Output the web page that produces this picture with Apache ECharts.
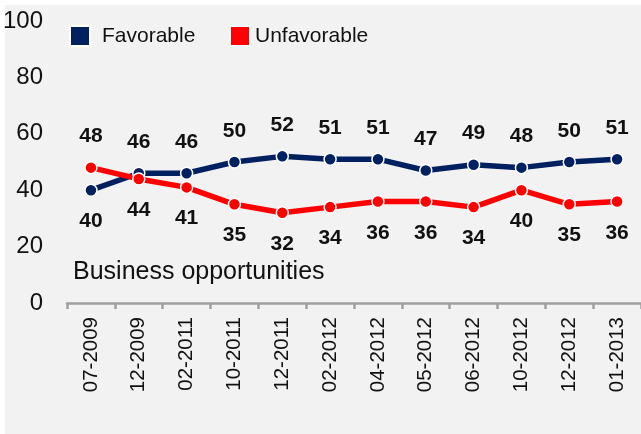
<!DOCTYPE html>
<html lang="en">
<head>
    <meta charset="UTF-8">
    <title>Business opportunities</title>
    <style>
      * { padding: 0; margin: 0; }
      body { background: #fff; }
    </style>
</head>
<body>
    <div id="main" style="width: 641px;height:434px;"></div>
    <script src="https://cdn.jsdelivr.net/npm/echarts@6/dist/echarts.min.js"></script>
    <script>
    var categories = ['07-2009', '12-2009', '02-2011', '10-2011', '12-2011', '02-2012',
                      '04-2012', '05-2012', '06-2012', '10-2012', '12-2012', '01-2013'];
    var favorable = [40, 46, 46, 50, 52, 51, 51, 47, 49, 48, 50, 51];
    var unfavorable = [48, 44, 41, 35, 32, 34, 36, 36, 34, 40, 35, 36];
    var yTicks = { min: 0, max: 100, interval: 20 };

    var font = "'Liberation Sans', Arial, sans-serif";

    // higher value of the pair gets its label on top, the other one below
    function buildData(values, other) {
        return values.map(function (v, i) {
            return {
                value: v,
                label: { position: v >= other[i] ? 'top' : 'bottom' }
            };
        });
    }

    function lineSeries(name, color, values, other) {
        return {
            name: name,
            type: 'line',
            data: buildData(values, other),
            symbol: 'circle',
            symbolSize: 12,
            lineStyle: { color: color, width: 5.5 },
            itemStyle: { color: color, borderColor: '#fff', borderWidth: 1.5 },
            label: {
                show: true,
                distance: 14,
                color: '#111',
                fontFamily: font,
                fontSize: 21,
                fontWeight: 'bold'
            },
            emphasis: { disabled: true },
            animation: false
        };
    }

    var option = {
        backgroundColor: '#fff',
        textStyle: { fontFamily: font },
        graphic: [
            {
                type: 'rect',
                z: -10,
                shape: { x: 5, y: 5, width: 636, height: 429 },
                style: { fill: '#f2f2f2' }
            },
            {
                type: 'text',
                x: 73,
                y: 272,
                style: {
                    text: 'Business opportunities',
                    font: '25px ' + font,
                    fill: '#111',
                    verticalAlign: 'middle'
                }
            }
        ],
        legend: [
            {
                data: ['Favorable'],
                left: 69, top: 25, padding: 0,
                icon: 'rect',
                itemWidth: 20, itemHeight: 20,
                textStyle: { fontSize: 21, color: '#111', padding: [0, 0, 0, 7] }
            },
            {
                data: ['Unfavorable'],
                left: 229, top: 25, padding: 0,
                icon: 'rect',
                itemWidth: 20, itemHeight: 20,
                textStyle: { fontSize: 21, color: '#111' }
            }
        ],
        grid: { left: 64, top: 21, width: 580, height: 282 },
        xAxis: {
            type: 'category',
            data: categories,
            boundaryGap: true,
            axisLine: { lineStyle: { color: '#a0a0a0', width: 2.5 } },
            axisTick: { show: true, length: 6, lineStyle: { color: '#a0a0a0', width: 2.5 } },
            axisLabel: { rotate: 90, fontSize: 20.5, color: '#111', margin: 14, interval: 0 },
            splitLine: { show: false }
        },
        yAxis: {
            type: 'value',
            min: yTicks.min,
            max: yTicks.max,
            interval: yTicks.interval,
            axisLine: { show: false },
            axisTick: { show: false },
            splitLine: { show: false },
            axisLabel: { fontSize: 24, color: '#111', margin: 24 }
        },
        series: [
            lineSeries('Favorable', '#002060', favorable, unfavorable),
            lineSeries('Unfavorable', '#ff0000', unfavorable, favorable)
        ]
    };

    var myChart = echarts.init(document.getElementById('main'));
    myChart.setOption(option);
    </script>
</body>
</html>
